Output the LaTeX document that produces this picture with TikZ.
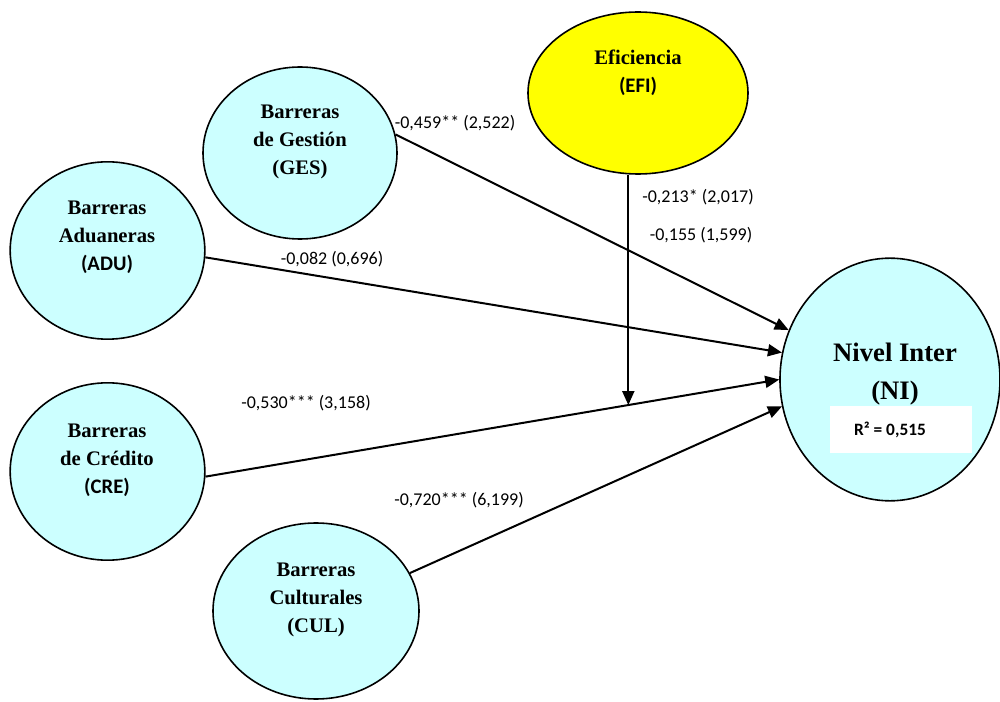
\documentclass[tikz,border=0pt]{standalone}
\usepackage{fontspec}
\setmainfont{Liberation Serif}
\newfontfamily\calibri{Carlito}
\usetikzlibrary{shapes.geometric, arrows.meta, calc}
\definecolor{barcyan}{RGB}{204, 255, 255}
\definecolor{efiyellow}{RGB}{255, 255, 0}

\begin{document}
\begin{tikzpicture}[x=0.75pt, y=-0.75pt,
  latent/.style={draw=black, line width=1.2pt, ellipse, inner sep=0pt, fill=barcyan},
  vartext/.style={align=center, inner sep=0pt, font=\fontsize{15.5}{21}\selectfont\bfseries},
  coef/.style={inner sep=1pt, font=\calibri\fontsize{13.5}{16}\selectfont},
  effect/.style={line width=1.5pt, -{Triangle[length=10.5pt, width=9pt]}}]
  \useasboundingbox (0,0) rectangle (1000,702);

  % Constructs
  \node[latent, minimum width=145.5pt, minimum height=129pt] (ges) at (300,153) {};
  \node[latent, minimum width=146pt, minimum height=133pt] (adu) at (107.5,250.5) {};
  \node[latent, minimum width=146pt, minimum height=133pt] (cre) at (107.5,471.5) {};
  \node[latent, minimum width=154.5pt, minimum height=132pt] (cul) at (316,611) {};
  \node[latent, fill=efiyellow, minimum width=165pt, minimum height=121.5pt] (efi) at (638,93) {};
  \node[latent, minimum width=165pt, minimum height=182pt] (ni) at (890,379.5) {};

  \node[vartext] (gestxt) at (300,142) {Barreras\\de Gestión\\(GES)};
  \node[vartext] (adutxt) at (107,237) {Barreras\\Aduaneras\\{\calibri(ADU)}};
  \node[vartext] (cretxt) at (107,460) {Barreras\\de Crédito\\{\calibri(CRE)}};
  \node[vartext] (cultxt) at (316,600) {Barreras\\Culturales\\(CUL)};
  \node[vartext] (efitxt) at (638,73) {Eficiencia\\{\calibri(EFI)}};
  \node[vartext, font=\fontsize{20}{28.5}\selectfont\bfseries] (nitxt) at (895,374) {Nivel Inter\\(NI)};

  % R2 box
  \node[fill=white, minimum width=107pt, minimum height=35pt] (rbox) at (901,429.5) {};
  \node[coef, font=\calibri\bfseries\fontsize{13}{15}\selectfont] (r2) at (890,430) {R² = 0,515};

  % Paths
  \draw[effect] (ges.11) -- (ni.154);
  \draw[effect] (adu.-4) -- (ni.166);
  \draw[effect] (cre.-3) -- (ni.180);
  \draw[effect] (cul.22) -- (ni.194);
  \coordinate (mod) at ($(cre.-3)!0.737!(ni.180)$);
  \draw[effect] (efi.south -| mod) -- (mod);

  % Coefficients
  \node[coef] (cges) at (455,123) {-0,459** (2,522)};
  \node[coef] (cadu) at (332,259) {-0,082 (0,696)};
  \node[coef] (ccre) at (306,403) {-0,530*** (3,158)};
  \node[coef] (ccul) at (459,500) {-0,720*** (6,199)};
  \node[coef] (cefi) at (698,197) {-0,213* (2,017)};
  \node[coef] (cmod) at (701,235) {-0,155 (1,599)};
\end{tikzpicture}
\end{document}
